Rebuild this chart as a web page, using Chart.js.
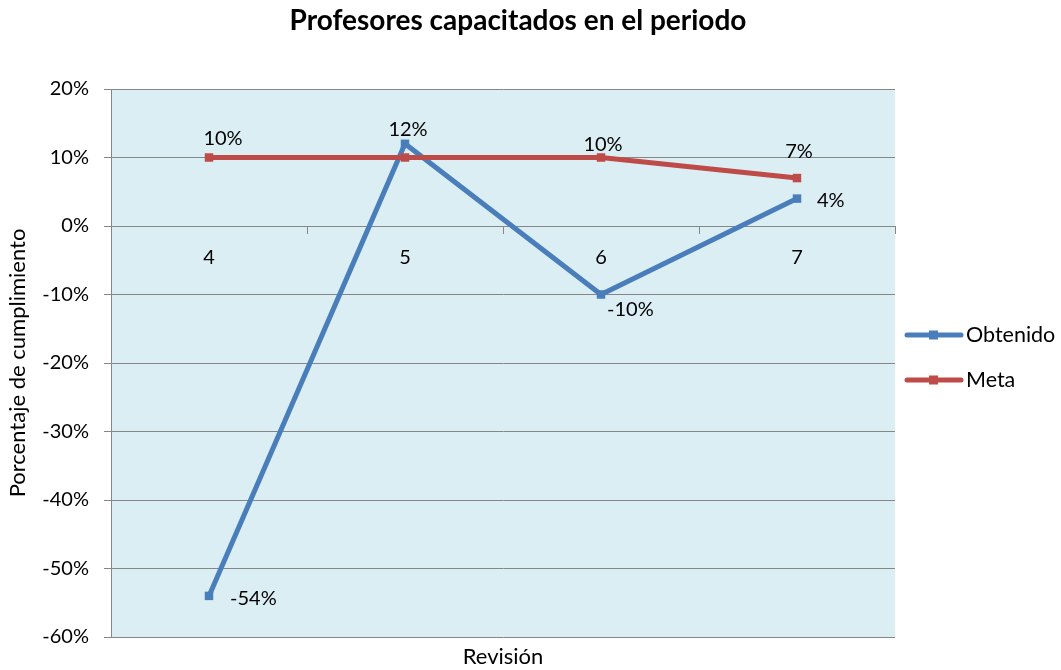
<!DOCTYPE html>
<html>
<head>
<meta charset="utf-8">
<script src="https://cdn.jsdelivr.net/npm/chart.js@4"></script>
<style>
  body { margin: 0; background: #fff; }
</style>
</head>
<body>
<canvas id="chart" width="1061" height="670"></canvas>
<script>
// Data
const revisiones = ['4', '5', '6', '7'];
const obtenido = [-54, 12, -10, 4];
const meta = [10, 10, 10, 7];
const yTicks = [20, 10, 0, -10, -20, -30, -40, -50, -60];

const BLUE = '#4A7EBB';
const RED = '#BE4B48';
const GRID = '#868686';
const FONT = 'Lato, "Noto Sans", sans-serif';

// label placement relative to each point (null = no label)
const labelPos = [
  [{ dx: 21, dy: 3, align: 'left' }, { dx: 3, dy: -14, align: 'center' }, { dx: 6, dy: 15, align: 'left' }, { dx: 20, dy: 2, align: 'left' }],
  [{ dx: 14, dy: -19, align: 'center' }, null, { dx: 2, dy: -13, align: 'center' }, { dx: 2, dy: -27, align: 'center' }]
];

const decor = {
  id: 'decor',
  beforeDraw(chart) {
    const { ctx, chartArea: a } = chart;
    ctx.save();
    ctx.fillStyle = '#DBEEF4';
    ctx.fillRect(a.left, a.top, a.right - a.left, a.bottom - a.top);
    ctx.restore();
  },
  afterDraw(chart) {
    const { ctx, chartArea: a } = chart;
    ctx.save();
    ctx.fillStyle = '#000';
    // title
    ctx.font = 'bold 28px ' + FONT;
    ctx.textAlign = 'center';
    ctx.textBaseline = 'middle';
    ctx.fillText('Profesores capacitados en el periodo', 518, 21);
    // x title
    ctx.font = '22px ' + FONT;
    ctx.fillText('Revisión', (a.left + a.right) / 2, 657);
    // y title
    ctx.save();
    ctx.translate(18, (a.top + a.bottom) / 2);
    ctx.rotate(-Math.PI / 2);
    ctx.font = '22px ' + FONT;
    ctx.fillText('Porcentaje de cumplimiento', 0, 0);
    ctx.restore();

    // data labels
    ctx.font = '20px ' + FONT;
    chart.data.datasets.forEach((ds, di) => {
      const pts = chart.getDatasetMeta(di).data;
      pts.forEach((p, i) => {
        const lp = labelPos[di][i];
        if (!lp) return;
        ctx.textAlign = lp.align;
        ctx.fillText(ds.data[i] + '%', p.x + lp.dx, p.y + lp.dy);
      });
    });

    // legend
    ctx.font = '21.5px ' + FONT;
    const items = [['Obtenido', BLUE, 335], ['Meta', RED, 380]];
    items.forEach(([name, col, y]) => {
      ctx.strokeStyle = col;
      ctx.lineWidth = 5;
      ctx.lineCap = 'round';
      ctx.beginPath();
      ctx.moveTo(907, y);
      ctx.lineTo(961, y);
      ctx.stroke();
      ctx.fillStyle = col;
      ctx.fillRect(929, y - 4.5, 9, 9);
      ctx.fillStyle = '#000';
      ctx.textAlign = 'left';
      ctx.fillText(name, 966, y);
    });
    ctx.restore();
  }
};

new Chart(document.getElementById('chart'), {
  type: 'line',
  data: {
    labels: revisiones,
    datasets: [
      {
        label: 'Obtenido',
        data: obtenido,
        borderColor: BLUE,
        backgroundColor: BLUE,
        borderWidth: 5,
        pointStyle: 'rect',
        pointRadius: 6,
        pointBorderWidth: 0,
        tension: 0,
        order: 1
      },
      {
        label: 'Meta',
        data: meta,
        borderColor: RED,
        backgroundColor: RED,
        borderWidth: 5,
        pointStyle: 'rect',
        pointRadius: 6,
        pointBorderWidth: 0,
        tension: 0,
        order: 0
      }
    ]
  },
  options: {
    responsive: false,
    devicePixelRatio: 1,
    animation: false,
    layout: { padding: { top: 89, right: 166, bottom: 33, left: 0 } },
    plugins: {
      legend: { display: false },
      title: { display: false },
      tooltip: { enabled: false }
    },
    scales: {
      x: {
        position: { y: 0 },
        offset: true,
        grid: { offset: true, drawOnChartArea: false, drawTicks: true, tickLength: 7, color: GRID },
        border: { color: GRID, width: 1 },
        ticks: { color: '#000', font: { family: FONT, size: 20 }, padding: 13 }
      },
      y: {
        min: -60,
        max: 20,
        afterBuildTicks: s => { s.ticks = yTicks.map(v => ({ value: v })); },
        afterFit: s => { s.width = 111; },
        grid: { color: GRID, lineWidth: 1, tickLength: 7 },
        border: { color: GRID, width: 1 },
        ticks: {
          color: '#000',
          font: { family: FONT, size: 20 },
          padding: 15,
          callback: v => v + '%'
        }
      }
    }
  },
  plugins: [decor]
});
</script>
</body>
</html>
